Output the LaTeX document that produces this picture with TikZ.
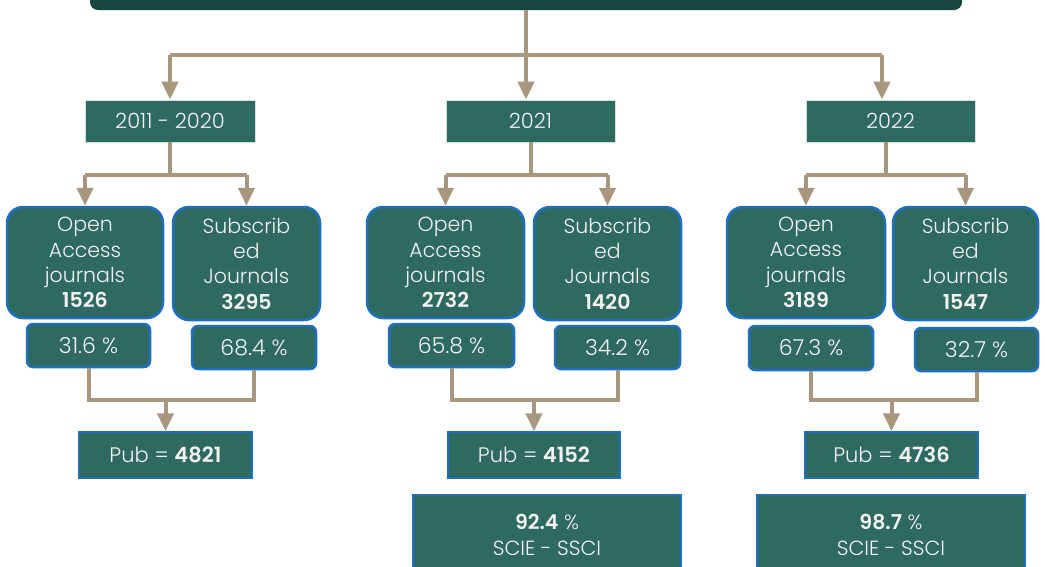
\documentclass[tikz,border=0pt]{standalone}
\usepackage{fontspec}
\IfFontExistsTF{Poppins Light}{\setmainfont{Poppins Light}[BoldFont=Poppins SemiBold]}{\setmainfont{Poppins}}
\usetikzlibrary{arrows.meta}
\definecolor{boxgreen}{HTML}{2E6A60}
\definecolor{bardark}{HTML}{17463F}
\definecolor{tan}{HTML}{A8977E}
\definecolor{bblue}{HTML}{1F6FC0}
\definecolor{txt}{HTML}{F2F2F2}
\begin{document}
\begin{tikzpicture}[x=1pt,y=-1pt,
  base/.style={fill=boxgreen,text=txt,inner sep=0pt,align=center},
  yearbox/.style={base,draw=white!80!boxgreen,line width=0.8pt,font=\fontsize{21}{24}\selectfont},
  jbox/.style={base,draw=bblue,line width=2.5pt,rounded corners=16pt,font=\fontsize{20.5}{25.3}\selectfont},
  pctbox/.style={base,draw=bblue,line width=2.5pt,rounded corners=6pt,font=\fontsize{22}{24}\selectfont},
  pubbox/.style={base,draw=bblue,line width=1.5pt,font=\fontsize{21}{24}\selectfont},
  scibox/.style={base,draw=bblue,line width=1.2pt,font=\fontsize{20.5}{26}\selectfont},
  conn/.style={draw=tan,line width=4pt,line join=miter},
  arr/.style={conn,-{Triangle[width=16pt,length=18pt]}}]
\useasboundingbox (0,0) rectangle (1045,566);
\clip (0,0) rectangle (1045,566);
\fill[white] (0,0) rectangle (1045,566);
% top bar
\node[fill=bardark,rounded corners=8pt,minimum width=872pt,minimum height=50pt,inner sep=0pt] (bar) at (526,-15) {};
% years
\node[yearbox,minimum width=170pt,minimum height=42pt] (yr1) at (170,121) {2011 - 2020};
\node[yearbox,minimum width=169pt,minimum height=42pt] (yr2) at (530.5,121) {2021};
\node[yearbox,minimum width=169pt,minimum height=42pt] (yr3) at (890.5,121) {2022};
% journal boxes
\node[jbox,minimum width=156pt,minimum height=111pt] (o1) at (85,262.5) {Open\\Access\\journals\\\textbf{1526}};
\node[jbox,minimum width=147pt,minimum height=113pt] (s1) at (246.5,263.5) {Subscrib\\ed\\Journals\\\textbf{3295}};
\node[jbox,minimum width=157pt,minimum height=111pt] (o2) at (445.5,262.5) {Open\\Access\\journals\\\textbf{2732}};
\node[jbox,minimum width=147pt,minimum height=113pt] (s2) at (607.5,263.5) {Subscrib\\ed\\Journals\\\textbf{1420}};
\node[jbox,minimum width=158pt,minimum height=111pt] (o3) at (806,262.5) {Open\\Access\\journals\\\textbf{3189}};
\node[jbox,minimum width=145pt,minimum height=113pt] (s3) at (965.5,263.5) {Subscrib\\ed\\Journals\\\textbf{1547}};
% percentages
\node[pctbox,minimum width=123pt,minimum height=43pt] (p11) at (88.5,345.5) {31.6 \%};
\node[pctbox,minimum width=124pt,minimum height=43pt] (p12) at (254,347.5) {68.4 \%};
\node[pctbox,minimum width=125pt,minimum height=43pt] (p21) at (451.5,345.5) {65.8 \%};
\node[pctbox,minimum width=125pt,minimum height=43pt] (p22) at (617.5,347.5) {34.2 \%};
\node[pctbox,minimum width=124pt,minimum height=44pt] (p31) at (811,348) {67.3 \%};
\node[pctbox,minimum width=123pt,minimum height=43pt] (p32) at (976.5,349.5) {32.7 \%};
% pub
\node[pubbox,minimum width=173pt,minimum height=46pt] (pub1) at (165.5,455) {Pub = \textbf{4821}};
\node[pubbox,minimum width=172pt,minimum height=46pt] (pub2) at (534,455) {Pub = \textbf{4152}};
\node[pubbox,minimum width=173pt,minimum height=46pt] (pub3) at (891.5,455) {Pub = \textbf{4736}};
% scie
\node[scibox,minimum width=268pt,minimum height=80pt] (sc2) at (547,535) {\textbf{92.4} \%\\SCIE - SSCI};
\node[scibox,minimum width=268pt,minimum height=80pt] (sc3) at (891,535) {\textbf{98.7} \%\\SCIE - SSCI};
% top connectors
\coordinate (j0) at (526,55);
\coordinate (jl) at (170,55);
\coordinate (jr) at (882,55);
\draw[conn] (j0 |- bar.south) -- (j0);
\draw[conn] (jl) -- (jr);
\draw[arr] (jl) -- (jl |- yr1.north);
\draw[arr] (j0) -- (j0 |- yr2.north);
\draw[arr] (jr) -- (jr |- yr3.north);
% year splits
\coordinate (a1) at (170,175);
\coordinate (a2) at (530.5,175);
\coordinate (a3) at (886,175);
\draw[conn] (yr1.south) -- (a1);
\draw[conn] (a2 |- yr2.south) -- (a2);
\draw[conn] (a3 |- yr3.south) -- (a3);
\draw[conn] (o1.north |- a1) -- (s1.north |- a1);
\draw[conn] (o2.north |- a2) -- (s2.north |- a2);
\draw[conn] (o3.north |- a3) -- (s3.north |- a3);
\draw[arr] (o1.north |- a1) -- (o1.north);
\draw[arr] (s1.north |- a1) -- (s1.north);
\draw[arr] (o2.north |- a2) -- (o2.north);
\draw[arr] (s2.north |- a2) -- (s2.north);
\draw[arr] (o3.north |- a3) -- (o3.north);
\draw[arr] (s3.north |- a3) -- (s3.north);
% merges
\coordinate (m1) at (165.5,400);
\coordinate (m2) at (534,400);
\coordinate (m3) at (891.5,400);
\draw[conn] (p11.south) -- (p11.south |- m1) -- (p12.south |- m1) -- (p12.south);
\draw[conn] (p21.south) -- (p21.south |- m2) -- (p22.south |- m2) -- (p22.south);
\draw[conn] (p31.south) -- (p31.south |- m3) -- (p32.south |- m3) -- (p32.south);
\draw[arr] (m1) -- (pub1.north);
\draw[arr] (m2) -- (pub2.north);
\draw[arr] (m3) -- (pub3.north);
\end{tikzpicture}
\end{document}
